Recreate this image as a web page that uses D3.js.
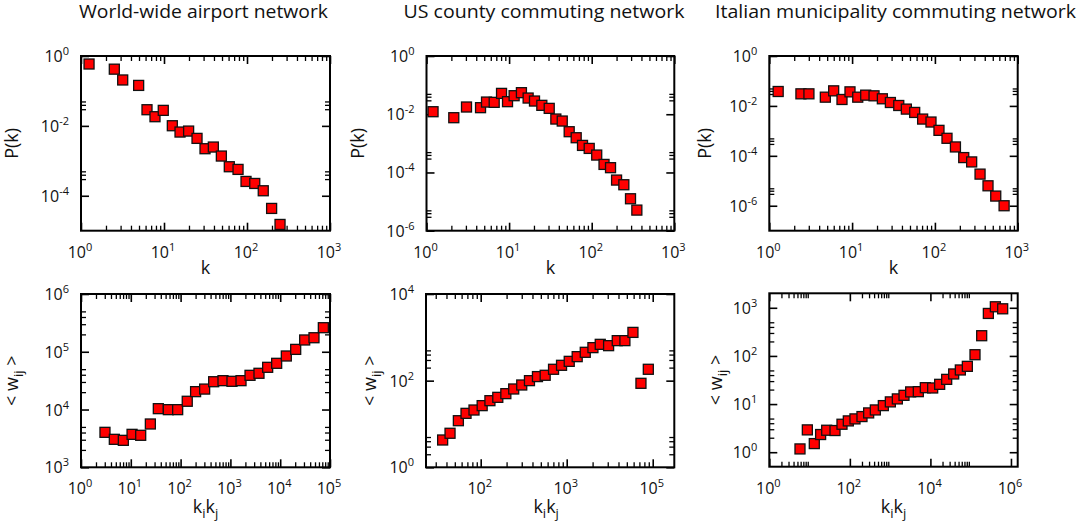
<!DOCTYPE html>
<html><head><meta charset="utf-8">
<script src="https://cdn.jsdelivr.net/npm/d3@7"></script>
<style>
body{margin:0;background:#fff}
svg{display:block}
text{font-family:"Open Sans","Noto Sans",sans-serif;fill:#111}
</style>
</head><body>
<svg id="chart" width="1085" height="531"></svg>
<script>
// ---------- data ----------
const titles = ["World-wide airport network", "US county commuting network", "Italian municipality commuting network"];

const airK  = [1.25, 2.52, 3.18, 4.95, 6.24, 7.79, 9.8, 12.6, 15.6, 19.8, 25, 31.2, 39.3, 49.1, 61.2, 78, 97.3, 124, 157, 198, 250];
const airPk = [0.59, 0.42, 0.206, 0.144, 0.029, 0.0183, 0.0278, 0.0101, 0.00666, 0.0071, 0.00439, 0.00222, 0.00248, 0.00137, 0.000677, 0.000568, 0.000257, 0.000225, 0.000139, 4.34e-5, 1.51e-5];

const usK  = [1.2, 2.14, 3.05, 4.51, 5.33, 6.6, 8.1, 9.57, 11.5, 14.1, 17, 20.3, 24.9, 30.6, 36.8, 44, 53.4, 64.9, 77.4, 93.3, 115, 141, 169, 200, 245, 295, 352];
const usPk = [0.0122, 0.0076, 0.0177, 0.0168, 0.0262, 0.0256, 0.052, 0.027, 0.0433, 0.055, 0.036, 0.0284, 0.0202, 0.0159, 0.00684, 0.00584, 0.00251, 0.00156, 0.00085, 0.00067, 0.000396, 0.000189, 0.000146, 5.48e-5, 3.79e-5, 1.25e-5, 5.1e-6];

const itK  = [1.28, 2.41, 3.01, 4.75, 5.99, 7.55, 9.43, 11.7, 14.6, 18.4, 23.2, 29, 36.6, 45.2, 57, 71.1, 89.7, 112, 140, 177, 223, 278, 351, 438, 543, 685];
const itPk = [0.0378, 0.0305, 0.0305, 0.0224, 0.0402, 0.0181, 0.0366, 0.0224, 0.027, 0.0254, 0.0193, 0.0137, 0.0104, 0.00745, 0.00548, 0.00297, 0.00226, 0.00105, 0.000504, 0.000227, 8.5e-5, 5.7e-5, 1.85e-5, 6.3e-6, 2.44e-6, 1.0e-6];

const airKK = [3.03, 4.67, 7.08, 10.6, 15.8, 24.7, 35.7, 56.8, 87.3, 136, 200, 304, 461, 710, 1076, 1634, 2478, 3750, 5600, 8490, 13270, 20460, 31000, 47700, 73500];
const airW  = [4030, 3050, 2930, 3720, 3580, 5620, 10350, 9950, 9950, 13900, 20400, 22600, 30300, 31600, 30800, 31600, 39100, 42400, 53800, 63100, 84500, 110000, 160000, 175000, 261000];

const usKK = [36.1, 44, 55, 67.5, 83.6, 104, 128, 158, 196, 242, 300, 369, 457, 562, 703, 871, 1070, 1324, 1643, 2018, 2455, 3070, 3870, 4750, 5890, 7300, 8890];
const usW  = [4.27, 6.1, 11.9, 17.6, 21, 26.5, 34.5, 41.2, 50.1, 64.2, 79.4, 100, 124, 133, 183, 226, 279, 358, 451, 578, 689, 642, 838, 838, 1300, 86.8, 183];

const itKK = [5.78, 8.8, 13.1, 18.8, 26.6, 42.8, 63.8, 91.6, 134, 200, 293, 429, 678, 1012, 1510, 2210, 3236, 5010, 7480, 11380, 16980, 25350, 37840, 55340, 82600, 128000, 187600, 274600, 410000, 623000];
const itW  = [1.17, 2.91, 1.51, 2.33, 2.86, 2.82, 3.81, 4.47, 4.92, 5.5, 6.55, 7.55, 9.29, 11.1, 12.8, 15.2, 17.9, 18.1, 21.9, 21.6, 25.7, 32.6, 42.2, 51.1, 60.8, 106, 263, 763, 1050, 953];

// tick values and their exponent labels
const xTicksK = [1, 10, 100, 1000],           xLabK = ["0", "1", "2", "3"];
const yTicksAir = [1, 1e-2, 1e-4],            yLabAir = ["0", "-2", "-4"];
const yTicksPk = [1, 1e-2, 1e-4, 1e-6],       yLabPk = ["0", "-2", "-4", "-6"];
const xTicksAirKK = [1, 10, 100, 1e3, 1e4, 1e5], xLabAirKK = ["0", "1", "2", "3", "4", "5"];
const yTicksAirW = [1e3, 1e4, 1e5, 1e6],      yLabAirW = ["3", "4", "5", "6"];
const xTicksUsKK = [100, 1000, 10000],        xLabUsKK = ["2", "3", "5"];
const yTicksUsW = [1, 100, 1e4],              yLabUsW = ["0", "2", "4"];
const xTicksItKK = [1, 100, 1e4, 1e6],        xLabItKK = ["0", "2", "4", "6"];
const yTicksItW = [1, 10, 100, 1000],         yLabItW = ["0", "1", "2", "3"];
const minorFull = [2, 3, 4, 5, 6, 7, 8, 9];
const minorLow = [2, 3, 4, 5];

// ---------- drawing ----------
const svg = d3.select("#chart");
const MAJ = 8, MIN = 5;

function minorTicks(dom, majors, mults) {
  const lo = Math.log10(dom[0]), hi = Math.log10(dom[1]);
  const sorted = majors.slice().sort((a, b) => a - b);
  const step = sorted.length > 1 ? sorted[1] / sorted[0] : 10;
  const bases = [sorted[0] / step, ...sorted];
  const out = [];
  bases.forEach(m => mults.forEach(n => {
    const lv = Math.log10(m * n);
    if (lv > lo + 1e-9 && lv < hi - 1e-9) out.push(m * n);
  }));
  return out;
}

function powLabel(sel, exp, baseSize, expSize) {
  sel.append("tspan").text("10").style("font-size", baseSize + "px");
  sel.append("tspan").text(exp).attr("dy", -7).style("font-size", expSize + "px");
}

function panel(o) {
  const g = svg.append("g");
  const x = d3.scaleLog().domain(o.xd).range([o.l, o.r]);
  const y = d3.scaleLog().domain(o.yd).range([o.b, o.t]);

  const axes = [
    [d3.axisBottom(x), `translate(0,${o.b})`, o.xt, o.xd, o.xm],
    [d3.axisTop(x), `translate(0,${o.t})`, o.xt, o.xd, o.xm],
    [d3.axisLeft(y), `translate(${o.l},0)`, o.yt, o.yd, o.ym],
    [d3.axisRight(y), `translate(${o.r},0)`, o.yt, o.yd, o.ym]
  ];
  axes.forEach(([ax, tr, majors, dom, mults]) => {
    const mins = minorTicks(dom, majors, mults);
    g.append("g").attr("transform", tr)
      .call(ax.tickValues(mins).tickSizeInner(-MIN).tickSizeOuter(0).tickFormat(""))
      .call(s => { s.select(".domain").remove(); s.selectAll("line").attr("stroke", "#000").attr("stroke-width", 1.3); });
    g.append("g").attr("transform", tr)
      .call(ax.tickValues(majors).tickSizeInner(-MAJ).tickSizeOuter(0).tickFormat(""))
      .call(s => { s.select(".domain").remove(); s.selectAll("line").attr("stroke", "#000").attr("stroke-width", 1.6); });
  });

  g.append("rect").attr("x", o.l).attr("y", o.t).attr("width", o.r - o.l).attr("height", o.b - o.t)
    .attr("fill", "none").attr("stroke", "#000").attr("stroke-width", 2);

  // tick labels
  o.xt.forEach((v, i) => {
    const t = g.append("text").attr("x", x(v) - 1).attr("y", o.b + 27).attr("text-anchor", "middle");
    powLabel(t, o.xl[i], 16, 11);
  });
  o.yt.forEach((v, i) => {
    const t = g.append("text").attr("x", o.l - 12).attr("y", y(v) + 6).attr("text-anchor", "end");
    powLabel(t, o.yl[i], 16, 11);
  });

  // axis titles
  const xt = g.append("text").attr("x", (o.l + o.r) / 2 + (o.xtdx || 0)).attr("text-anchor", "middle").style("font-size", "18px");
  if (o.xTitle === "k") {
    xt.attr("y", o.b + 43).text("k");
  } else {
    xt.attr("y", o.b + 46);
    xt.append("tspan").text("k");
    xt.append("tspan").text("i").attr("dy", 5).style("font-size", "13px");
    xt.append("tspan").text("k").attr("dy", -5);
    xt.append("tspan").text("j").attr("dy", 5).style("font-size", "13px");
  }
  const cy = (o.t + o.b) / 2;
  const yt = g.append("text").attr("transform", `translate(${o.yx},${cy}) rotate(-90)`).attr("text-anchor", "middle").style("font-size", "18px");
  if (o.yTitle === "P") {
    yt.text("P(k)");
  } else {
    yt.append("tspan").text("< w");
    yt.append("tspan").text("ij").attr("dy", 5).style("font-size", "13px");
    yt.append("tspan").text(" >").attr("dy", -5);
  }

  // markers
  const S = 10;
  g.append("g").selectAll("rect").data(o.xs.map((v, i) => [v, o.ys[i]])).join("rect")
    .attr("x", d => x(d[0]) - S / 2).attr("y", d => y(d[1]) - S / 2)
    .attr("width", S).attr("height", S)
    .attr("fill", "#ff0000").attr("stroke", "#111").attr("stroke-width", 1.3);
}

const row1 = {t: 56, b: 230.7}, row2 = {t: 294, b: 467.3};
const c1 = {l: 81, r: 330}, c2 = {l: 426.5, r: 674.3}, c3 = {l: 769.3, r: 1017.7};

panel({...c1, ...row1, xd: [1, 1000], yd: [1e-5, 1], xt: xTicksK, xl: xLabK, yt: yTicksAir, yl: yLabAir, xm: minorFull, ym: [3, 4, 5],
  xs: airK, ys: airPk, xTitle: "k", yTitle: "P", yx: 18});
panel({...c2, ...row1, xd: [1, 1000], yd: [1e-6, 1], xt: xTicksK, xl: xLabK, yt: yTicksPk, yl: yLabPk, xm: minorFull, ym: [3, 4, 5],
  xs: usK, ys: usPk, xTitle: "k", yTitle: "P", yx: 364});
panel({...c3, ...row1, xd: [1, 1000], yd: [1e-7, 1], xt: xTicksK, xl: xLabK, yt: yTicksPk, yl: yLabPk, xm: minorFull, ym: [3, 4, 5],
  xs: itK, ys: itPk, xTitle: "k", yTitle: "P", yx: 711});
panel({...c1, ...row2, xd: [1, 1e5], yd: [1e3, 1e6], xt: xTicksAirKK, xl: xLabAirKK, yt: yTicksAirW, yl: yLabAirW, xm: minorFull, ym: minorLow,
  xs: airKK, ys: airW, xTitle: "kk", yTitle: "w", yx: 18});
panel({...c2, ...row2, l: 426, xd: [Math.pow(10, 1.364), Math.pow(10, 4.251)], yd: [1, 1e4], xt: xTicksUsKK, xl: xLabUsKK, yt: yTicksUsW, yl: yLabUsW, xm: minorFull, ym: minorLow,
  xs: usKK, ys: usW, xTitle: "kk", yTitle: "w", yx: 376, xtdx: -4});
panel({...c3, t: 293.3, b: 466.7, xd: [1, 1.47e6], yd: [0.5, 2000], xt: xTicksItKK, xl: xLabItKK, yt: yTicksItW, yl: yLabItW, xm: minorFull, ym: minorLow,
  xs: itKK, ys: itW, xTitle: "kk", yTitle: "w", yx: 722});

// titles
const titlePos = [[203.5, 249], [544, 281], [895.5, 361]];
titles.forEach((s, i) => {
  svg.append("text").attr("x", titlePos[i][0]).attr("y", 17.5).attr("text-anchor", "middle")
    .style("font-size", "18px").attr("textLength", titlePos[i][1]).attr("lengthAdjust", "spacingAndGlyphs").text(s);
});
</script>
</body></html>
